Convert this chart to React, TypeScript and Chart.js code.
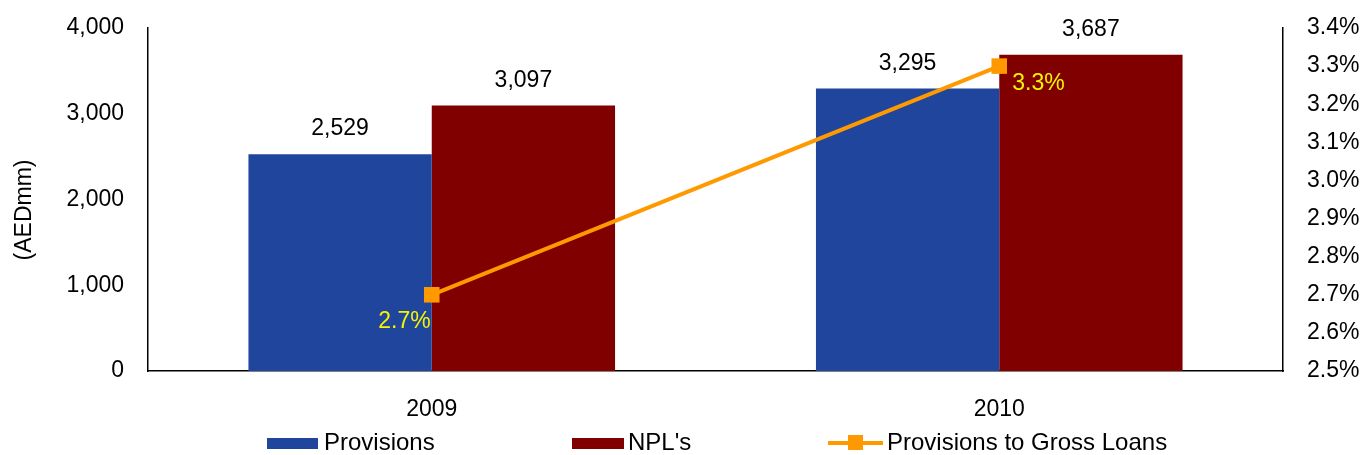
import React, { useEffect, useRef } from "react";
import { Chart, registerables } from "chart.js";

Chart.register(...registerables);

const categories = ["2009", "2010"];
const provisions = [2529, 3295];
const npls = [3097, 3687];
const provisionsToGrossLoans = [2.7, 3.3];
const leftTicks = [0, 1000, 2000, 3000, 4000];
const rightTicks = [2.5, 2.6, 2.7, 2.8, 2.9, 3.0, 3.1, 3.2, 3.3, 3.4];

const FONT = "'Liberation Sans', Arial, sans-serif";
const FS = 23;
const LEGEND_FS = 24;
const BLUE = "#1F459C";
const MAROON = "#800000";
const ORANGE = "#FF9900";
const YELLOW = "#F5F500";

const fmtThousands = (v: number) => v.toLocaleString("en-US");

const labelsPlugin = {
  id: "customLabels",
  afterDatasetsDraw(chart: any) {
    const ctx = chart.ctx;
    ctx.save();
    ctx.font = `${FS}px ${FONT}`;
    // bar value labels
    [0, 1].forEach((di) => {
      const meta = chart.getDatasetMeta(di);
      const data = chart.data.datasets[di].data as number[];
      meta.data.forEach((bar: any, i: number) => {
        ctx.fillStyle = "#000";
        ctx.textAlign = "center";
        ctx.textBaseline = "middle";
        ctx.fillText(fmtThousands(data[i]), bar.x, bar.y - 25);
      });
    });
    // line value labels
    const lm = chart.getDatasetMeta(2);
    lm.data.forEach((pt: any, i: number) => {
      ctx.fillStyle = YELLOW;
      ctx.textBaseline = "middle";
      const txt = provisionsToGrossLoans[i].toFixed(1) + "%";
      if (i === 0) {
        ctx.textAlign = "right";
        ctx.fillText(txt, pt.x - 1, pt.y + 27);
      } else {
        ctx.textAlign = "left";
        ctx.fillText(txt, pt.x + 13, pt.y + 18);
      }
    });
    ctx.restore();
  },
  afterDraw(chart: any) {
    const ctx = chart.ctx;
    ctx.save();
    // y axis title
    ctx.font = `${FS}px ${FONT}`;
    ctx.fillStyle = "#000";
    ctx.translate(25, 210);
    ctx.rotate(-Math.PI / 2);
    ctx.textAlign = "center";
    ctx.textBaseline = "middle";
    ctx.fillText("(AEDmm)", 0, 0);
    ctx.restore();

    // legend
    ctx.save();
    ctx.font = `${LEGEND_FS}px ${FONT}`;
    ctx.textBaseline = "middle";
    ctx.textAlign = "left";
    const ly = 443;
    ctx.fillStyle = BLUE;
    ctx.fillRect(267, ly - 5, 51, 11);
    ctx.fillStyle = "#000";
    ctx.fillText("Provisions", 324, ly);
    ctx.fillStyle = MAROON;
    ctx.fillRect(572, ly - 5, 52, 11);
    ctx.fillStyle = "#000";
    ctx.fillText("NPL's", 628, ly);
    ctx.strokeStyle = ORANGE;
    ctx.lineWidth = 4;
    ctx.beginPath();
    ctx.moveTo(828, ly);
    ctx.lineTo(883, ly);
    ctx.stroke();
    ctx.fillStyle = ORANGE;
    ctx.fillRect(848, ly - 8, 15, 15);
    ctx.fillStyle = "#000";
    ctx.fillText("Provisions to Gross Loans", 887, ly);
    ctx.restore();
  },
};

export default function App() {
  const ref = useRef<HTMLCanvasElement>(null);

  useEffect(() => {
    if (!ref.current) return;
    const tickFont = { family: FONT, size: FS };
    const chart = new Chart(ref.current, {
      type: "bar",
      data: {
        labels: categories,
        datasets: [
          {
            type: "bar",
            label: "Provisions",
            data: provisions,
            backgroundColor: BLUE,
            yAxisID: "y",
            order: 2,
            categoryPercentage: 0.646,
            barPercentage: 1,
          },
          {
            type: "bar",
            label: "NPL's",
            data: npls,
            backgroundColor: MAROON,
            yAxisID: "y",
            order: 2,
            categoryPercentage: 0.646,
            barPercentage: 1,
          },
          {
            type: "line",
            label: "Provisions to Gross Loans",
            data: provisionsToGrossLoans,
            borderColor: ORANGE,
            backgroundColor: ORANGE,
            borderWidth: 4,
            pointStyle: "rect",
            pointRadius: 11,
            pointBorderWidth: 0,
            yAxisID: "y1",
            order: 0,
          },
        ],
      } as any,
      options: {
        animation: false,
        responsive: false,
        layout: { padding: { top: 28, left: 0, right: 0, bottom: 0 } },
        plugins: {
          legend: { display: false },
          tooltip: { enabled: false },
        },
        scales: {
          x: {
            grid: { display: false },
            border: { display: true, color: "#000", width: 1.5 },
            ticks: { font: tickFont, color: "#000", padding: 17 },
            afterFit: (s: any) => {
              s.height = 84;
            },
          },
          y: {
            position: "left",
            min: 0,
            max: 4000,
            grid: { display: false },
            border: { display: true, color: "#000", width: 1.5 },
            afterBuildTicks: (s: any) => {
              s.ticks = leftTicks.map((v) => ({ value: v }));
            },
            ticks: {
              font: tickFont,
              color: "#000",
              padding: 16,
              callback: (v: any) => fmtThousands(Number(v)),
            },
            afterFit: (s: any) => {
              s.width = 148;
              s.paddingTop = 0;
              s.paddingBottom = 0;
            },
          },
          y1: {
            position: "right",
            min: 2.5,
            max: 3.4,
            grid: { display: false },
            border: { display: true, color: "#000", width: 1.5 },
            afterBuildTicks: (s: any) => {
              s.ticks = rightTicks.map((v) => ({ value: v }));
            },
            ticks: {
              font: tickFont,
              color: "#000",
              padding: 16,
              callback: (v: any) => Number(v).toFixed(1) + "%",
            },
            afterFit: (s: any) => {
              s.width = 81;
              s.paddingTop = 0;
              s.paddingBottom = 0;
            },
          },
        },
      } as any,
      plugins: [labelsPlugin],
    });
    return () => chart.destroy();
  }, []);

  return (
    <div style={{ position: "absolute", left: 0, top: 0, width: 1364, height: 455, background: "#fff" }}>
      <canvas ref={ref} width={1364} height={455} style={{ display: "block" }} />
    </div>
  );
}
